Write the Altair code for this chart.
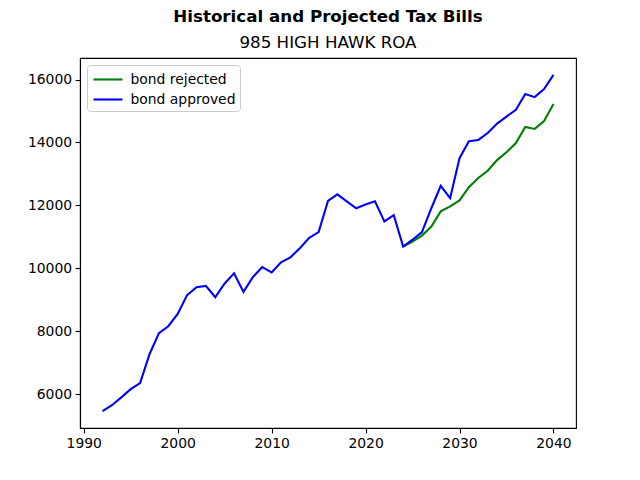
import altair as alt
import pandas as pd

hist_years = list(range(1992, 2025))
hist_values = [5460, 5650, 5900, 6160, 6350, 7270, 7940, 8160, 8550, 9150,
               9400, 9440, 9080, 9520, 9840, 9250, 9720, 10040, 9870, 10190,
               10350, 10640, 10970, 11150, 12140, 12350, 12130, 11910, 12030,
               12130, 11490, 11690, 10690]

proj_years = list(range(2025, 2041))
approved_values = [10910, 11150, 11910, 12620, 12230, 13500, 14040, 14080,
                   14300, 14600, 14820, 15040, 15540, 15440, 15700, 16150]
rejected_values = [10850, 11040, 11330, 11810, 11970, 12160, 12580, 12870,
                   13100, 13440, 13690, 13980, 14490, 14430, 14680, 15220]

series_names = ["bond rejected", "bond approved"]
series_colors = ["#008000", "#0000ff"]

rej = pd.DataFrame({"year": [2024] + proj_years,
                    "tax": [hist_values[-1]] + rejected_values,
                    "series": "bond rejected"})
app = pd.DataFrame({"year": hist_years + proj_years,
                    "tax": hist_values + approved_values,
                    "series": "bond approved"})

color = alt.Color("series:N",
                  scale=alt.Scale(domain=series_names, range=series_colors),
                  legend=alt.Legend(title=None, orient="top-left", offset=7,
                                    symbolType="M-1.61,0H1.61", symbolSize=324,
                                    symbolStrokeWidth=2.1, symbolOffset=6.5,
                                    labelFontSize=13.9, labelFont="DejaVu Sans",
                                    labelColor="black",
                                    strokeColor="#cccccc", fillColor="white",
                                    cornerRadius=3, padding=4, rowPadding=2,
                                    labelOffset=12))

x = alt.X("year:Q", scale=alt.Scale(domain=[1989.6, 2042.4], nice=False, zero=False),
          axis=alt.Axis(values=[1990, 2000, 2010, 2020, 2030, 2040], format="d", title=None))
y = alt.Y("tax:Q", scale=alt.Scale(domain=[4926, 16684], nice=False, zero=False),
          axis=alt.Axis(values=list(range(6000, 16001, 2000)), format="d", title=None))

l1 = alt.Chart(rej).mark_line(strokeWidth=2.1).encode(x=x, y=y, color=color)
l2 = alt.Chart(app).mark_line(strokeWidth=2.1).encode(x=x, y=y, color=color)

chart = alt.layer(l1, l2).properties(
    width=496, height=370,
    autosize=alt.AutoSizeParams(type="none"),
    padding={"left": 72, "top": 50, "right": 56, "bottom": 44},
    title=alt.TitleParams(text="Historical and Projected Tax Bills",
                          subtitle="985 HIGH HAWK ROA",
                          anchor="middle", font="DejaVu Sans", fontSize=16.7,
                          fontWeight="bold", color="black",
                          subtitleFont="DejaVu Sans", subtitleFontSize=16.7,
                          subtitleColor="black", subtitlePadding=10, offset=6),
).configure_view(stroke="black", strokeWidth=1.1).configure_axis(
    grid=False, labelFont="DejaVu Sans", labelFontSize=13.9, labelColor="black",
    tickColor="black", tickSize=4.9, tickWidth=1.1, domainColor="black",
    domainWidth=1.1, labelPadding=3.5, labelFlush=False
)

chart.save("out.html", embed_options={"renderer": "svg", "actions": False})
